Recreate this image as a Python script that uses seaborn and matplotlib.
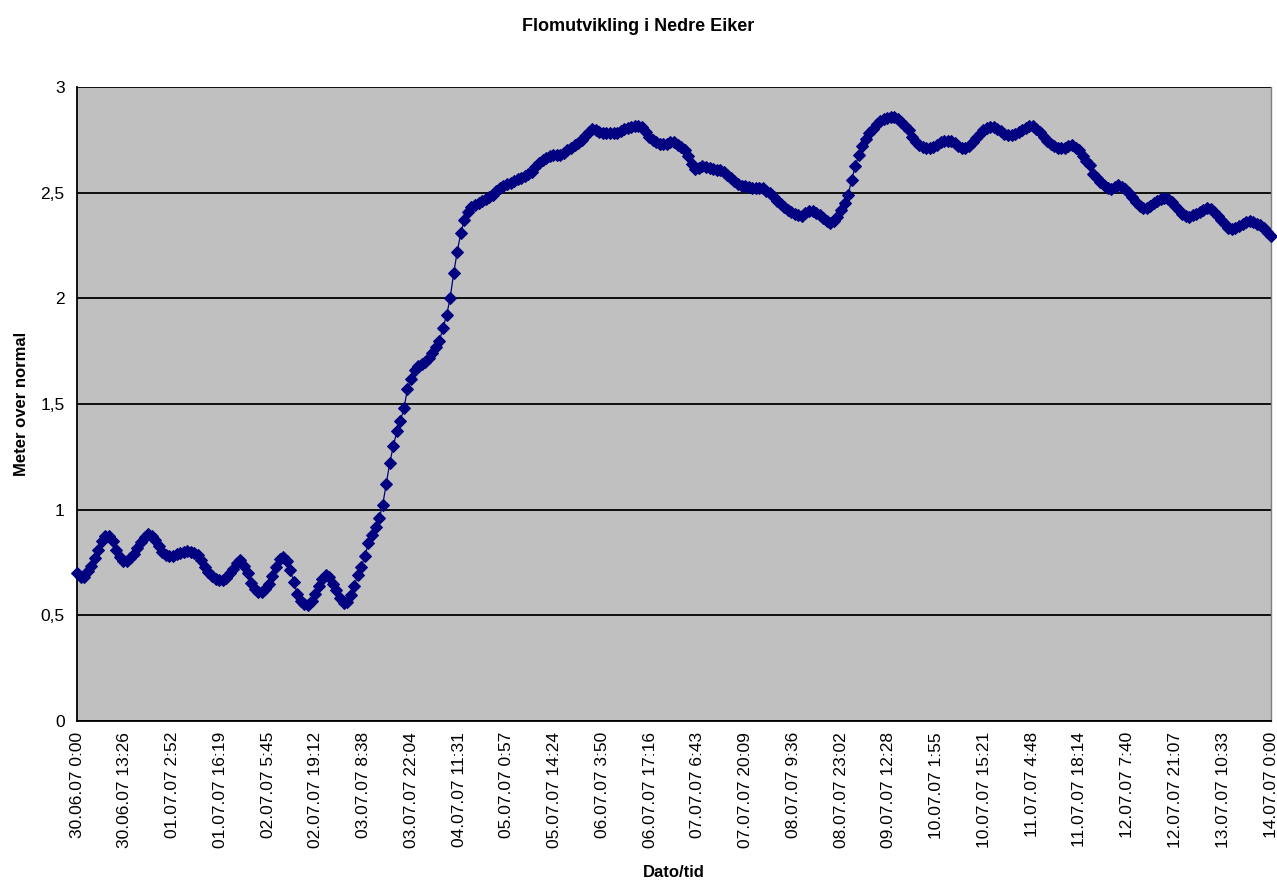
import matplotlib
matplotlib.use("Agg")
import matplotlib.pyplot as plt
import seaborn as sns
import pandas as pd

# Water level, meter over normal, one reading per hour from 30.06.07 0:00 to 14.07.07 0:00
levels = [
    # 30.06 0-23
    0.70, 0.68, 0.68, 0.71, 0.735, 0.77, 0.81, 0.85, 0.875, 0.875, 0.85, 0.81,
    0.775, 0.755, 0.755, 0.77, 0.79, 0.82, 0.845, 0.87, 0.885, 0.875, 0.855, 0.83,
    # 01.07
    0.80, 0.785, 0.78, 0.78, 0.79, 0.795, 0.80, 0.805, 0.80, 0.795, 0.785, 0.76,
    0.73, 0.705, 0.685, 0.672, 0.665, 0.667, 0.678, 0.70, 0.72, 0.75, 0.76, 0.735,
    # 02.07
    0.70, 0.655, 0.625, 0.61, 0.612, 0.625, 0.65, 0.685, 0.73, 0.765, 0.775, 0.755,
    0.715, 0.66, 0.60, 0.57, 0.555, 0.55, 0.57, 0.60, 0.64, 0.67, 0.69, 0.68,
    # 03.07
    0.65, 0.62, 0.58, 0.56, 0.565, 0.595, 0.64, 0.69, 0.73, 0.78, 0.84, 0.88,
    0.92, 0.96, 1.02, 1.12, 1.22, 1.30, 1.37, 1.42, 1.48, 1.57, 1.62, 1.66,
    # 04.07
    1.68, 1.69, 1.70, 1.72, 1.74, 1.77, 1.80, 1.86, 1.92, 2.00, 2.12, 2.22,
    2.31, 2.37, 2.41, 2.43, 2.44, 2.45, 2.46, 2.47, 2.48, 2.49, 2.51, 2.52,
    # 05.07
    2.53, 2.54, 2.545, 2.555, 2.565, 2.57, 2.58, 2.59, 2.60, 2.62, 2.64, 2.655,
    2.665, 2.675, 2.68, 2.68, 2.68, 2.69, 2.70, 2.71, 2.725, 2.735, 2.75, 2.77,
    # 06.07
    2.785, 2.80, 2.795, 2.785, 2.78, 2.78, 2.78, 2.78, 2.78, 2.79, 2.80, 2.805,
    2.81, 2.815, 2.815, 2.81, 2.785, 2.765, 2.75, 2.74, 2.73, 2.73, 2.73, 2.74,
    # 07.07
    2.74, 2.725, 2.715, 2.70, 2.675, 2.635, 2.61, 2.615, 2.625, 2.62, 2.615, 2.61,
    2.605, 2.605, 2.60, 2.585, 2.57, 2.555, 2.54, 2.532, 2.53, 2.528, 2.522, 2.52,
    # 08.07
    2.52, 2.52, 2.51, 2.497, 2.478, 2.46, 2.445, 2.43, 2.42, 2.41, 2.40, 2.393,
    2.39, 2.405, 2.415, 2.415, 2.405, 2.395, 2.38, 2.365, 2.358, 2.365, 2.385, 2.42,
    # 09.07
    2.45, 2.49, 2.56, 2.625, 2.68, 2.72, 2.755, 2.78, 2.80, 2.825, 2.84, 2.848,
    2.855, 2.86, 2.858, 2.85, 2.835, 2.815, 2.795, 2.765, 2.74, 2.727, 2.718, 2.712,
    # 10.07
    2.71, 2.715, 2.727, 2.742, 2.746, 2.746, 2.743, 2.736, 2.72, 2.71, 2.712, 2.722,
    2.74, 2.757, 2.777, 2.795, 2.807, 2.81, 2.81, 2.80, 2.79, 2.778, 2.772, 2.772,
    # 11.07
    2.778, 2.788, 2.798, 2.806, 2.815, 2.815, 2.80, 2.785, 2.765, 2.745, 2.73, 2.72,
    2.712, 2.71, 2.712, 2.72, 2.727, 2.71, 2.70, 2.675, 2.65, 2.63, 2.59, 2.57,
    # 12.07
    2.55, 2.535, 2.522, 2.515, 2.525, 2.535, 2.528, 2.518, 2.50, 2.48, 2.455, 2.435,
    2.428, 2.428, 2.437, 2.45, 2.46, 2.47, 2.476, 2.47, 2.455, 2.437, 2.418, 2.40,
    # 13.07
    2.39, 2.386, 2.392, 2.40, 2.41, 2.42, 2.428, 2.425, 2.41, 2.39, 2.37, 2.35,
    2.335, 2.33, 2.332, 2.342, 2.352, 2.362, 2.368, 2.36, 2.35, 2.345, 2.335, 2.315,
    # 14.07 0:00
    2.295,
]
hours = list(range(len(levels)))

# Category labels as Excel printed them (every 13 h 26 min)
tick_labels = [
    "30.06.07 0:00", "30.06.07 13:26", "01.07.07 2:52", "01.07.07 16:19",
    "02.07.07 5:45", "02.07.07 19:12", "03.07.07 8:38", "03.07.07 22:04",
    "04.07.07 11:31", "05.07.07 0:57", "05.07.07 14:24", "06.07.07 3:50",
    "06.07.07 17:16", "07.07.07 6:43", "07.07.07 20:09", "08.07.07 9:36",
    "08.07.07 23:02", "09.07.07 12:28", "10.07.07 1:55", "10.07.07 15:21",
    "11.07.07 4:48", "11.07.07 18:14", "12.07.07 7:40", "12.07.07 21:07",
    "13.07.07 10:33", "14.07.07 0:00",
]
y_ticks = [0, 0.5, 1, 1.5, 2, 2.5, 3]
y_tick_labels = ["0", "0,5", "1", "1,5", "2", "2,5", "3"]

df = pd.DataFrame({"hour": hours, "level": levels})

sns.set_style("white")
plt.rcParams["font.family"] = ["Liberation Sans", "DejaVu Sans"]
plt.rcParams["text.color"] = "black"
plt.rcParams["axes.labelcolor"] = "black"
plt.rcParams["xtick.color"] = "black"
plt.rcParams["ytick.color"] = "black"

fig = plt.figure(figsize=(12.77, 8.8), dpi=100)
ax = fig.add_axes([77 / 1277, 1 - 721 / 880, (1271 - 77) / 1277, (721 - 87) / 880])
ax.set_facecolor("#C0C0C0")

sns.lineplot(data=df, x="hour", y="level", ax=ax, color="#000080", linewidth=0.9,
             marker="D", markersize=6, markeredgecolor="#000080",
             markerfacecolor="#000080", clip_on=False, zorder=3)

ax.set_xlim(0, hours[-1])
ax.set_ylim(0, 3)

# horizontal grid
ax.set_yticks(y_ticks)
ax.set_yticklabels(y_tick_labels, fontsize=12.5)
ax.grid(axis="y", color="black", linewidth=1.3, zorder=1)
ax.grid(axis="x", visible=False)
ax.set_axisbelow(True)

step = hours[-1] / (len(tick_labels) - 1)
ax.set_xticks([i * step for i in range(len(tick_labels))])
ax.set_xticklabels(tick_labels, rotation=90, fontsize=12.5)
ax.set_xticks(hours, minor=True)
ax.tick_params(axis="x", which="both", direction="out", length=5, width=1,
               color="black", pad=3)
ax.tick_params(axis="y", direction="out", length=5, width=1, color="black", pad=4)

for side in ["left", "bottom"]:
    ax.spines[side].set_color("black")
    ax.spines[side].set_linewidth(1.3)
ax.spines["top"].set_visible(False)
ax.spines["right"].set_color("#808080")
ax.spines["right"].set_linewidth(1)

ax.set_xlabel("Dato/tid", fontsize=12, fontweight="bold", labelpad=12)
ax.set_ylabel("Meter over normal", fontsize=12, fontweight="bold", labelpad=8)
fig.suptitle("Flomutvikling i Nedre Eiker", fontsize=13, fontweight="bold", y=0.979)

fig.savefig("out.png", dpi=100, facecolor="white")
